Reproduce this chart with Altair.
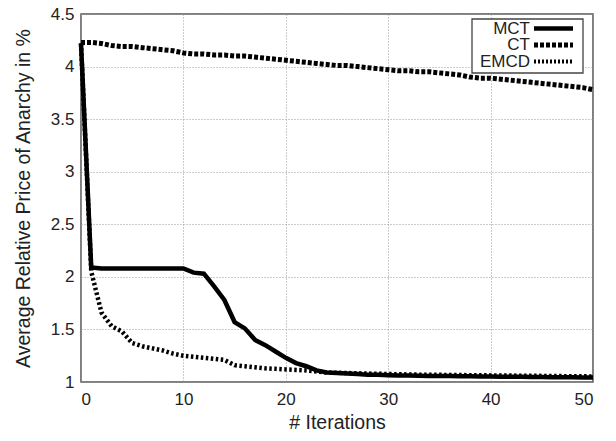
import altair as alt
import pandas as pd

iterations = list(range(0, 51))

mct = [4.22, 2.09, 2.08, 2.08, 2.08, 2.08, 2.08, 2.08, 2.08, 2.08, 2.08,
       2.04, 2.03, 1.91, 1.78, 1.57, 1.51, 1.40, 1.35, 1.29, 1.23,
       1.18, 1.15, 1.11, 1.09, 1.085, 1.08, 1.075, 1.07, 1.068, 1.065,
       1.063, 1.062, 1.06, 1.058, 1.057, 1.056, 1.055, 1.054, 1.053, 1.052,
       1.051, 1.05, 1.049, 1.048, 1.047, 1.046, 1.045, 1.044, 1.043, 1.042]

ct = [4.23, 4.23, 4.22, 4.20, 4.19, 4.19, 4.18, 4.17, 4.16, 4.15, 4.13,
      4.12, 4.12, 4.11, 4.11, 4.10, 4.10, 4.09, 4.08, 4.07, 4.06,
      4.05, 4.04, 4.03, 4.02, 4.01, 4.01, 4.00, 3.99, 3.98, 3.97,
      3.96, 3.96, 3.95, 3.95, 3.94, 3.93, 3.92, 3.90, 3.89, 3.89,
      3.88, 3.87, 3.86, 3.85, 3.84, 3.83, 3.82, 3.81, 3.80, 3.78]

emcd = [4.22, 2.05, 1.66, 1.53, 1.48, 1.37, 1.34, 1.32, 1.30, 1.27, 1.25,
        1.24, 1.23, 1.22, 1.21, 1.16, 1.15, 1.14, 1.13, 1.125, 1.12,
        1.115, 1.11, 1.10, 1.09, 1.088, 1.085, 1.083, 1.08, 1.078, 1.076,
        1.074, 1.072, 1.07, 1.069, 1.068, 1.067, 1.066, 1.065, 1.064, 1.063,
        1.062, 1.061, 1.06, 1.059, 1.058, 1.057, 1.056, 1.055, 1.054, 1.053]

series_names = ["MCT", "CT", "EMCD"]
x_ticks = [0, 10, 20, 30, 40, 50]
y_ticks = [1, 1.5, 2, 2.5, 3, 3.5, 4, 4.5]

rows = []
for name, vals in zip(series_names, [mct, ct, emcd]):
    for it, v in zip(iterations, vals):
        rows.append({"iter": it, "value": v, "series": name})
df = pd.DataFrame(rows)

FONT = "Liberation Sans"
TXT = "#222222"

x_enc = alt.X("iter:Q", scale=alt.Scale(domain=[0, 50], nice=False),
              axis=alt.Axis(values=x_ticks, title="# Iterations", format="d"))
y_enc = alt.Y("value:Q", scale=alt.Scale(domain=[1, 4.5], nice=False, zero=False),
              axis=alt.Axis(values=y_ticks, format="~g",
                            title="Average Relative Price of Anarchy in %"))

styles = {
    "MCT": dict(strokeWidth=4.5),
    "CT": dict(strokeWidth=5, strokeDash=[4, 2]),
    "EMCD": dict(strokeWidth=4.5, strokeDash=[2.5, 2.5]),
}

layers = []
for name in ["MCT", "EMCD", "CT"]:
    layers.append(
        alt.Chart(df).transform_filter(alt.datum.series == name)
        .mark_line(color="black", strokeCap="butt", strokeJoin="miter", **styles[name])
        .encode(x=x_enc, y=y_enc)
    )

# legend box (top-right, inside the plot)
box = alt.Chart(pd.DataFrame({"a": [0]})).mark_rect(
    fill="white", stroke="#444", strokeWidth=1.3
).encode(x=alt.value(391), x2=alt.value(502), y=alt.value(5), y2=alt.value(59))
layers.append(box)

leg_y = {"MCT": 14.5, "CT": 31, "EMCD": 47.5}
leg_styles = {
    "MCT": dict(strokeWidth=4.5),
    "CT": dict(strokeWidth=5, strokeDash=[4, 2]),
    "EMCD": dict(strokeWidth=4, strokeDash=[2, 2]),
}
for name in series_names:
    layers.append(
        alt.Chart(pd.DataFrame({"label": [name]})).mark_text(
            align="right", baseline="middle", font=FONT, fontSize=17, color=TXT
        ).encode(x=alt.value(449), y=alt.value(leg_y[name]), text="label:N")
    )
    layers.append(
        alt.Chart(pd.DataFrame({"label": [name]})).mark_rule(
            color="black", strokeCap="butt", **leg_styles[name]
        ).encode(x=alt.value(453), x2=alt.value(492), y=alt.value(leg_y[name]))
    )

chart = alt.layer(*layers).properties(
    width=512, height=368,
    autosize=alt.AutoSizeParams(type="none"),
    padding={"left": 73, "top": 6, "right": 15, "bottom": 58},
).configure_view(
    stroke="#555", strokeWidth=1.5
).configure_axis(
    labelFont=FONT, titleFont=FONT, labelFontSize=17, titleFontSize=19.5,
    labelColor=TXT, titleColor=TXT, titleFontWeight="normal",
    domain=False, ticks=False, grid=True, gridColor="#999", gridDash=[1, 2],
    gridWidth=1,
).configure_axisX(
    labelPadding=9, titlePadding=6
).configure_axisY(
    labelPadding=7, titlePadding=17
)

chart.save("out.html", embed_options={"renderer": "svg", "actions": False})
